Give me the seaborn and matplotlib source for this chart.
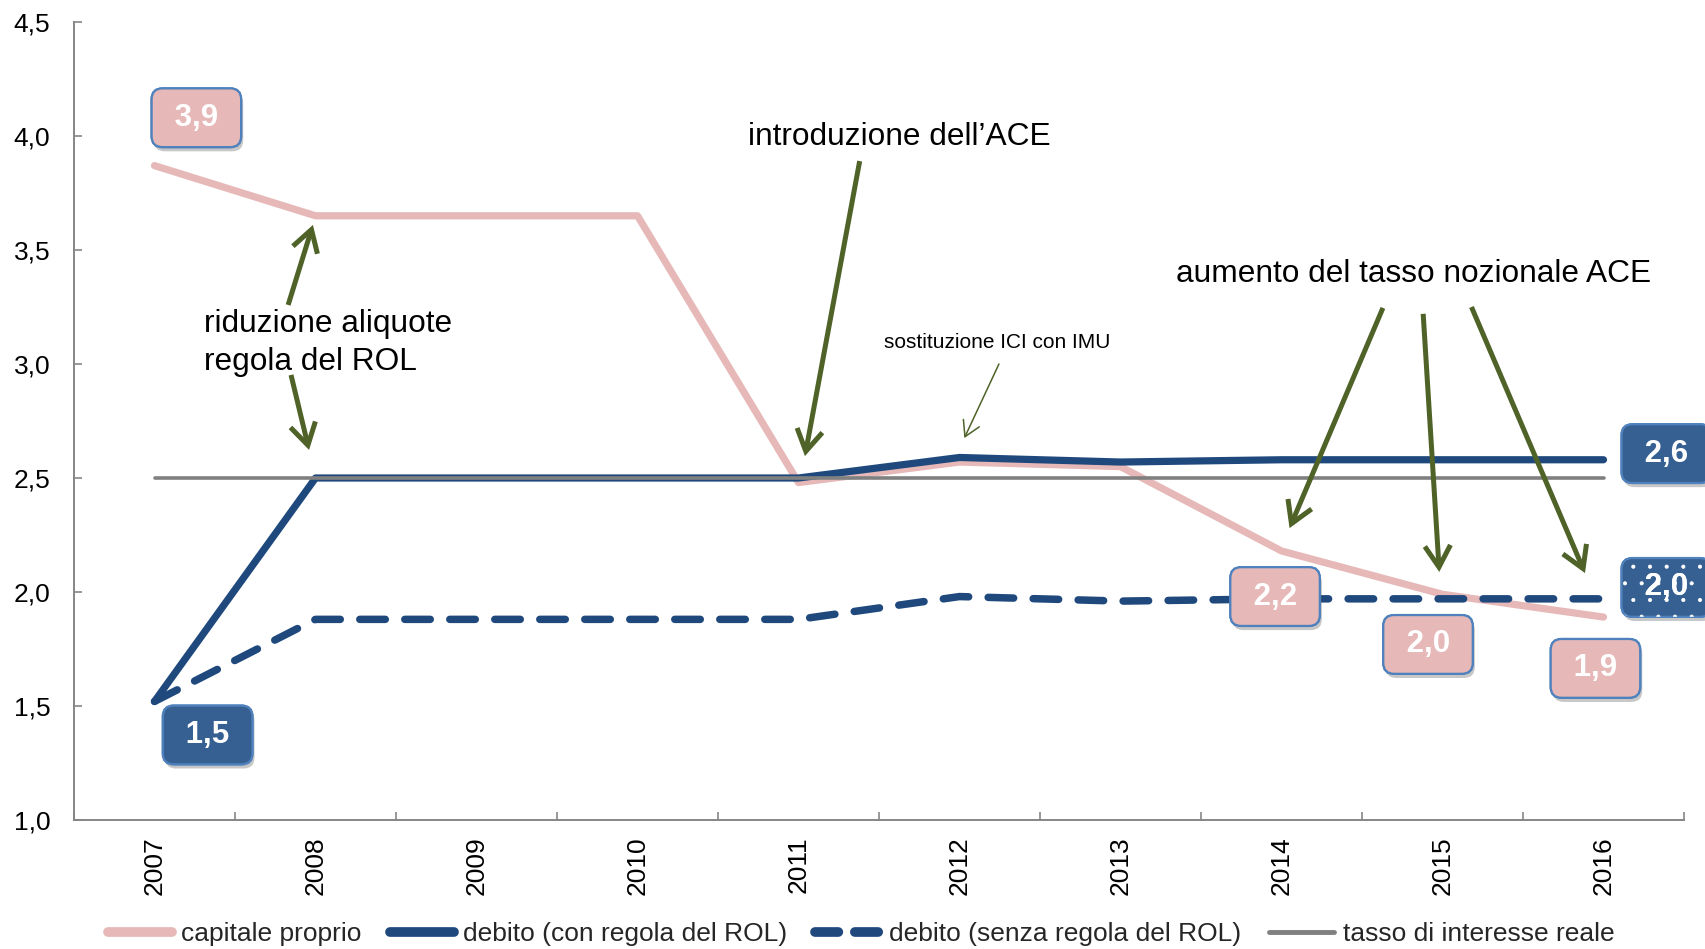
import matplotlib
matplotlib.use("Agg")
import matplotlib.pyplot as plt
import matplotlib.patheffects as pe
from matplotlib.lines import Line2D
import seaborn as sns
import numpy as np
import pandas as pd

# ---------------- data ----------------
years = ["2007", "2008", "2009", "2010", "2011", "2012", "2013", "2014", "2015", "2016"]
capitale_proprio = [3.87, 3.65, 3.65, 3.65, 2.48, 2.57, 2.55, 2.18, 1.99, 1.89]
debito_con_rol = [1.52, 2.50, 2.50, 2.50, 2.50, 2.59, 2.57, 2.58, 2.58, 2.58]
debito_senza_rol = [1.52, 1.88, 1.88, 1.88, 1.88, 1.98, 1.96, 1.97, 1.97, 1.97]
tasso_reale = [2.5, 2.5, 2.5, 2.5, 2.5, 2.5, 2.5, 2.5, 2.5, 2.5]
series_names = ["capitale proprio", "debito (con regola del ROL)",
                "debito (senza regola del ROL)", "tasso di interesse reale"]
y_ticks = [1.0, 1.5, 2.0, 2.5, 3.0, 3.5, 4.0, 4.5]

# ---------------- style ----------------
sns.set_theme(style="white")
plt.rcParams["font.family"] = ["Liberation Sans", "DejaVu Sans"]
plt.rcParams["hatch.linewidth"] = 0.5

PINK = "#E6B9B8"
NAVY = "#1F497D"
GRAY = "#808080"
GREEN = "#4F6228"
BOX_NAVY = "#376092"
BOX_EDGE = "#4F81BD"
AXIS = "#868686"

fig = plt.figure(figsize=(17.05, 9.49), dpi=100)
ax = fig.add_axes([74 / 1705, 1 - 820 / 949, (1684 - 74) / 1705, (820 - 22) / 949])

x = np.arange(len(years))
df = pd.DataFrame({"x": x, "cap": capitale_proprio, "con": debito_con_rol,
                   "senza": debito_senza_rol, "tasso": tasso_reale})

sns.lineplot(data=df, x="x", y="cap", ax=ax, color=PINK, linewidth=5.2,
             solid_capstyle="round", solid_joinstyle="round", label=series_names[0])
sns.lineplot(data=df, x="x", y="con", ax=ax, color=NAVY, linewidth=5.2,
             solid_capstyle="round", solid_joinstyle="round", label=series_names[1])
sns.lineplot(data=df, x="x", y="senza", ax=ax, color=NAVY, linewidth=5.4,
             linestyle=(0, (3.4, 2.6)), dash_capstyle="round", dash_joinstyle="round",
             label=series_names[2])
sns.lineplot(data=df, x="x", y="tasso", ax=ax, color=GRAY, linewidth=2.6,
             solid_capstyle="round", label=series_names[3])
if ax.get_legend() is not None:
    ax.get_legend().remove()

# ---------------- axes ----------------
ax.set_xlim(-0.5, len(years) - 0.5)
ax.set_ylim(y_ticks[0], y_ticks[-1])
ax.set_xlabel("")
ax.set_ylabel("")
ax.set_xticks(x)
ax.set_xticklabels(years, rotation=90, fontsize=19, color="black")
ax.set_xticks(np.arange(-0.5, len(years)), minor=True)
ax.set_yticks(y_ticks)
ax.set_yticklabels([f"{v:.1f}".replace(".", ",") for v in y_ticks], fontsize=19, color="black")
ax.tick_params(axis="x", which="major", length=0, pad=12)
ax.tick_params(axis="x", which="minor", direction="in", length=6, width=1.2, color=AXIS, bottom=True)
ax.tick_params(axis="y", which="major", direction="in", length=6, width=1.2, color=AXIS, pad=17, left=True)
for s in ["top", "right"]:
    ax.spines[s].set_visible(False)
for s in ["left", "bottom"]:
    ax.spines[s].set_color(AXIS)
    ax.spines[s].set_linewidth(1.4)
ax.grid(False)


# ---------------- value boxes ----------------
def fmt(v):
    return f"{v:.1f}".replace(".", ",")


def box(xx, yy, txt, face, edge, dotted=False):
    t = ax.text(xx, yy, " " + txt + " ", ha="center", va="center", fontsize=22.5,
                fontweight="bold", color="white", zorder=6, clip_on=False,
                bbox=dict(boxstyle="round,pad=0.46,rounding_size=0.35", fc=face, ec=edge, lw=1.6))
    t.get_bbox_patch().set_path_effects([
        pe.withSimplePatchShadow(offset=(1.5, -3), shadow_rgbFace="#606060", alpha=0.35),
        pe.Normal()])
    if dotted:
        ax.text(xx, yy, " " + txt + " ", ha="center", va="center", fontsize=22.5,
                fontweight="bold", color="white", zorder=7, clip_on=False,
                bbox=dict(boxstyle="round,pad=0.46,rounding_size=0.35", fc="none",
                          ec="white", lw=0, hatch="."))


box(0.26, 4.08, fmt(capitale_proprio[0]), PINK, BOX_EDGE)
box(0.33, 1.373, fmt(debito_con_rol[0]), BOX_NAVY, BOX_EDGE)
box(6.96, 1.98, fmt(capitale_proprio[7]), PINK, BOX_EDGE)
box(7.91, 1.77, fmt(capitale_proprio[8]), PINK, BOX_EDGE)
box(8.95, 1.665, fmt(capitale_proprio[9]), PINK, BOX_EDGE)
box(9.39, 2.607, fmt(debito_con_rol[9]), BOX_NAVY, BOX_EDGE)
box(9.39, 2.02, fmt(debito_senza_rol[9]), BOX_NAVY, BOX_EDGE, dotted=True)

# ---------------- annotations ----------------
ax.text(3.686, 3.96, "introduzione dell’ACE", fontsize=22.8, color="black", va="baseline", zorder=5)
ax.text(6.345, 3.36, "aumento del tasso nozionale ACE", fontsize=22.8, color="black", va="baseline", zorder=5)
ax.text(0.308, 3.14, "riduzione aliquote", fontsize=22.8, color="black", va="baseline", zorder=5)
ax.text(0.308, 2.974, "regola del ROL", fontsize=22.8, color="black", va="baseline", zorder=5)
ax.text(4.53, 3.07, "sostituzione ICI con IMU", fontsize=15, color="black", va="baseline", zorder=5)

thick = dict(arrowstyle="->,head_length=0.7,head_width=0.42", color=GREEN, lw=3.6,
             shrinkA=0, shrinkB=0, mutation_scale=22, capstyle="butt", joinstyle="miter")
thin = dict(arrowstyle="->,head_length=0.6,head_width=0.35", color=GREEN, lw=1.1,
            shrinkA=0, shrinkB=0, mutation_scale=18)
arrows = [
    ((0.83, 3.259), (0.984, 3.61), thick),
    ((0.848, 2.952), (0.96, 2.623), thick),
    ((4.38, 3.89), (4.04, 2.596), thick),
    ((5.245, 3.0), (5.03, 2.675), thin),
    ((7.63, 3.246), (7.05, 2.28), thick),
    ((7.88, 3.22), (7.98, 2.088), thick),
    ((8.18, 3.25), (8.885, 2.083), thick),
]
for tail, head, props in arrows:
    ax.annotate("", xy=head, xytext=tail, arrowprops=props, zorder=5)

# ---------------- legend ----------------
handles = [
    Line2D([], [], color=PINK, lw=7, solid_capstyle="round"),
    Line2D([], [], color=NAVY, lw=7, solid_capstyle="round"),
    Line2D([], [], color=NAVY, lw=7, linestyle=(0, (2.4, 1.7)), dash_capstyle="round"),
    Line2D([], [], color=GRAY, lw=3.5, solid_capstyle="round"),
]
fig.legend(handles, series_names, loc="center", bbox_to_anchor=(0.505, 0.016), ncol=4,
           frameon=False, fontsize=19, handlelength=2.45, handletextpad=0.35,
           columnspacing=1.05, borderaxespad=0, borderpad=0)

fig.savefig("out.png", dpi=100, facecolor="white")
